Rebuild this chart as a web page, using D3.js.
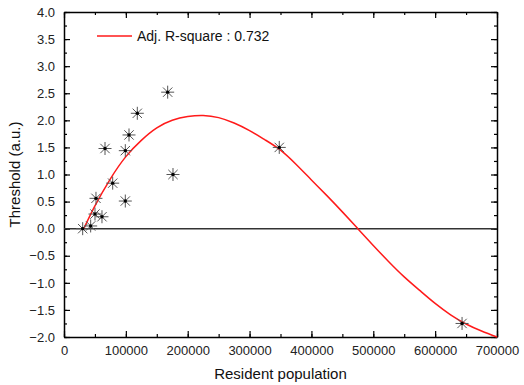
<!DOCTYPE html>
<html>
<head>
<meta charset="utf-8">
<script src="https://cdn.jsdelivr.net/npm/d3@7"></script>
<style>
  body { margin: 0; background: #fff; }
  svg { display: block; font-family: "Liberation Sans", Arial, sans-serif; }
</style>
</head>
<body>
<div id="chart"></div>
<script>
// Observed points (resident population, threshold)
const population = [30200, 43100, 51700, 50100, 61400, 66300, 78700, 99100, 99100, 105100, 118500, 167600, 176200, 348000, 643500];
const threshold = [0.0, 0.05, 0.56, 0.27, 0.22, 1.48, 0.84, 0.51, 1.44, 1.73, 2.13, 2.52, 1.00, 1.50, -1.75];

// Fitted curve
const fitX = [32000, 50000, 75000, 100000, 125000, 150000, 175000, 200000, 225000, 250000, 275000, 300000, 325000, 350000, 375000, 400000, 425000, 450000, 475000, 500000, 525000, 550000, 575000, 600000, 625000, 650000, 675000, 700000];
const fitY = [0.0, 0.42, 0.92, 1.33, 1.63, 1.86, 2.00, 2.07, 2.09, 2.05, 1.95, 1.81, 1.64, 1.45, 1.19, 0.90, 0.61, 0.31, 0.0, -0.31, -0.61, -0.89, -1.14, -1.38, -1.59, -1.76, -1.89, -2.0];

const xTicks = [0, 100000, 200000, 300000, 400000, 500000, 600000, 700000];
const yTicks = [-2.0, -1.5, -1.0, -0.5, 0.0, 0.5, 1.0, 1.5, 2.0, 2.5, 3.0, 3.5, 4.0];
const legendLabel = "Adj. R-square : 0.732";

const outerWidth = 524, outerHeight = 385;
const margin = { top: 12, right: 27, bottom: 48, left: 64 };
const innerWidth = outerWidth - margin.left - margin.right;
const innerHeight = outerHeight - margin.top - margin.bottom;

const svg = d3.select("#chart")
    .append("svg")
    .attr("width", outerWidth)
    .attr("height", outerHeight)
    .append("g")
    .attr("transform", "translate(" + margin.left + "," + margin.top + ")");

const xScale = d3.scaleLinear().domain([0, 700000]).range([0, innerWidth]);
const yScale = d3.scaleLinear().domain([-2, 4]).range([innerHeight, 0]);

const minorX = d3.range(0, 700001, 50000);
const minorY = d3.range(-2, 4.001, 0.25);

// Helper: draw an axis with inward major and minor ticks
const drawAxis = (axisFn, scale, transform, major, minor, showLabels, fmt) => {
    const gMinor = svg.append("g")
        .attr("transform", transform)
        .call(axisFn(scale).tickValues(minor).tickSize(-3).tickFormat(""));
    gMinor.select(".domain").remove();
    gMinor.selectAll("text").remove();
    gMinor.selectAll("line").attr("stroke", "#000").attr("stroke-width", 1.2);

    const g = svg.append("g")
        .attr("transform", transform)
        .call(axisFn(scale).tickValues(major).tickSize(-6).tickSizeOuter(0)
            .tickPadding(9).tickFormat(showLabels ? fmt : ""));
    g.select(".domain").attr("stroke", "#000").attr("stroke-width", 1.5);
    g.selectAll("line").attr("stroke", "#000").attr("stroke-width", 1.2);
    if (showLabels) {
        g.selectAll("text").attr("font-size", 13).attr("fill", "#222")
            .attr("font-family", "Liberation Sans, Arial, sans-serif");
    } else {
        g.selectAll("text").remove();
    }
    return g;
};

drawAxis(d3.axisBottom, xScale, "translate(0," + innerHeight + ")", xTicks, minorX, true, d3.format("d"));
drawAxis(d3.axisTop, xScale, "translate(0,0)", xTicks, minorX, false);
drawAxis(d3.axisLeft, yScale, "translate(0,0)", yTicks, minorY, true, d3.format(".1f"));
drawAxis(d3.axisRight, yScale, "translate(" + innerWidth + ",0)", yTicks, minorY, false);

// Zero reference line
svg.append("line")
    .attr("x1", 0).attr("x2", innerWidth)
    .attr("y1", yScale(0)).attr("y2", yScale(0))
    .attr("stroke", "#333").attr("stroke-width", 1.5);

// Fit curve
const fitData = fitX.map((x, i) => ({ x: x, y: fitY[i] }));
svg.append("path")
    .datum(fitData)
    .attr("fill", "none")
    .attr("stroke", "#ff1a1a")
    .attr("stroke-width", 1.5)
    .attr("d", d3.line().x(d => xScale(d.x)).y(d => yScale(d.y)).curve(d3.curveNatural));

// Asterisk markers
const pts = population.map((x, i) => ({ x: x, y: threshold[i] }));
const r = 6.5;
const k = r * 0.72;
const stars = svg.append("g")
    .selectAll("g")
    .data(pts)
    .enter()
    .append("g")
    .attr("transform", d => "translate(" + xScale(d.x) + "," + yScale(d.y) + ")");

stars.append("path")
    .attr("d", "M0," + (-r) + "L0," + r
        + "M" + (-k) + "," + (-k) + "L" + k + "," + k
        + "M" + k + "," + (-k) + "L" + (-k) + "," + k
        + "M" + (-r) + ",0L" + r + ",0")
    .attr("stroke", "#555")
    .attr("stroke-width", 1)
    .attr("fill", "none");

stars.append("circle")
    .attr("r", 1.7)
    .attr("fill", "#000");

// Legend
svg.append("line")
    .attr("x1", 33).attr("x2", 68)
    .attr("y1", 24).attr("y2", 24)
    .attr("stroke", "#ff1a1a").attr("stroke-width", 1.5);
svg.append("text")
    .attr("x", 73).attr("y", 29)
    .attr("font-size", 14)
    .attr("fill", "#111")
    .text(legendLabel);

// Axis titles
svg.append("text")
    .attr("x", innerWidth / 2)
    .attr("y", innerHeight + 42)
    .attr("text-anchor", "middle")
    .attr("font-size", 15)
    .attr("fill", "#111")
    .text("Resident population");

svg.append("text")
    .attr("transform", "translate(" + (-44) + "," + (innerHeight / 2) + ") rotate(-90)")
    .attr("text-anchor", "middle")
    .attr("font-size", 15)
    .attr("fill", "#111")
    .text("Threshold (a.u.)");
</script>
</body>
</html>
